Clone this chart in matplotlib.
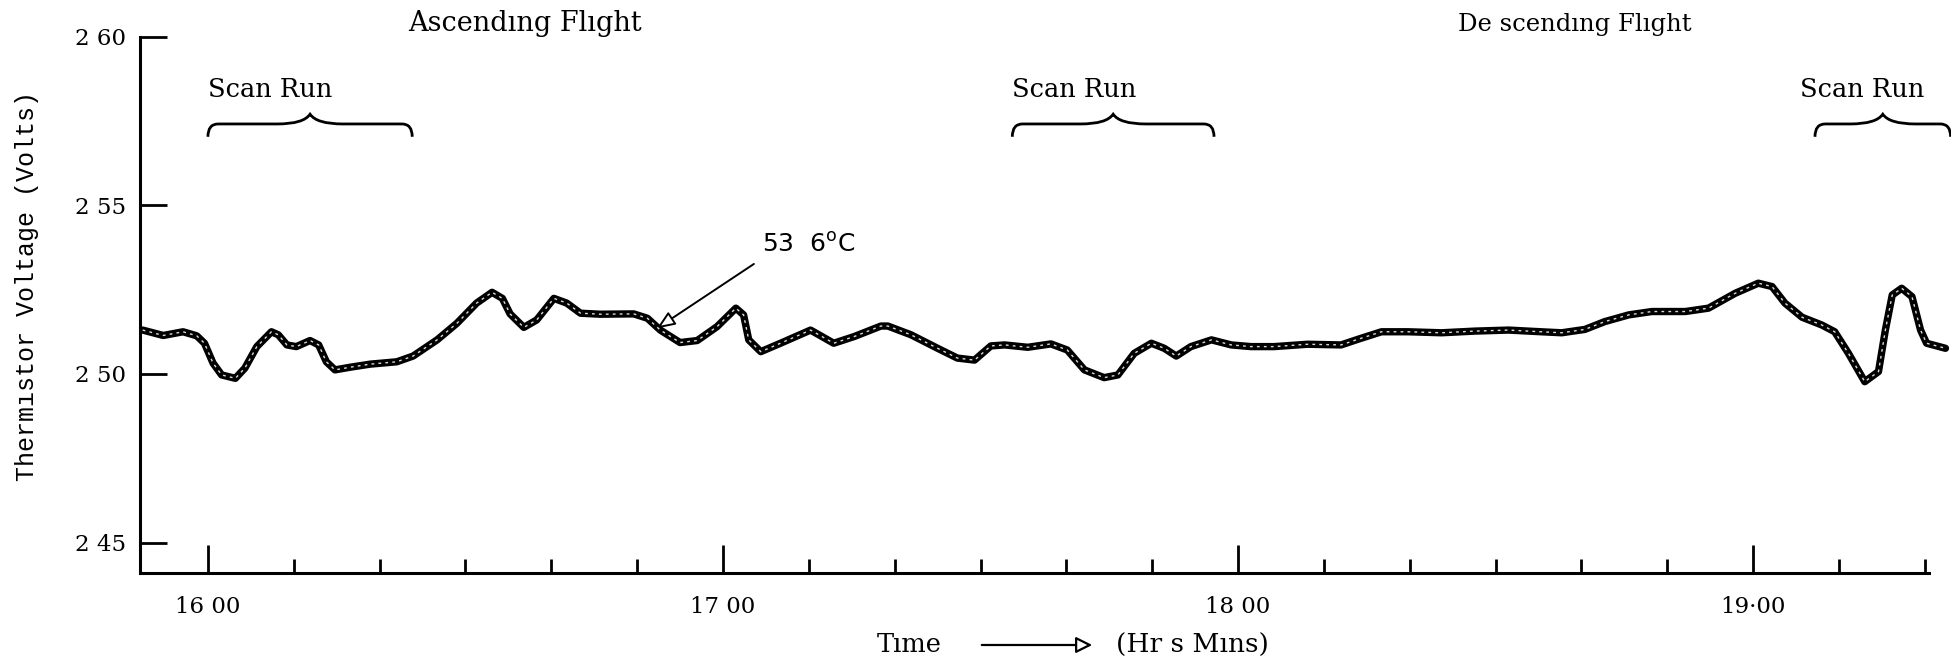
import matplotlib
matplotlib.use("Agg")
import matplotlib.pyplot as plt
from matplotlib.path import Path
from matplotlib.patches import PathPatch, FancyArrowPatch

# ---- data (time in minutes after 16:00, thermistor voltage in volts) ----
time_min = [-7.6, -5.2, -2.9, -1.3, -0.4, 0.6, 1.6, 3.2, 4.3, 5.7,
            7.4, 8.2, 9.2, 10.3, 11.9, 12.9, 13.8, 14.8, 16.6, 18.9,
            22.0, 23.9, 26.7, 29.0, 31.3, 33.1, 34.3, 35.2, 36.8, 38.3,
            40.3, 41.8, 43.4, 45.7, 49.6, 51.2, 52.7, 55.0, 57.0, 59.3,
            61.5, 62.4, 63.0, 64.4, 66.7, 70.2, 72.9, 75.3, 78.4, 79.2,
            81.9, 85.0, 87.3, 89.3, 91.2, 92.8, 95.5, 98.2, 100.1, 102.1,
            104.4, 106.0, 107.9, 109.9, 111.4, 112.8, 114.5, 116.9, 119.2, 121.5,
            124.2, 128.1, 132.0, 134.0, 136.7, 139.8, 143.7, 147.6, 151.5, 155.3,
            157.7, 160.4, 162.7, 165.5, 168.2, 172.1, 174.8, 177.9, 180.6, 182.2,
            183.7, 185.7, 188.0, 189.5, 191.1, 193.0, 194.6, 195.4, 196.2, 197.3,
            198.5, 199.5, 200.2, 202.4]
voltage = [2.5130, 2.5114, 2.5125, 2.5113, 2.5091, 2.5032, 2.4997, 2.4987, 2.5017, 2.5081,
           2.5125, 2.5116, 2.5086, 2.5081, 2.5099, 2.5086, 2.5036, 2.5012, 2.5020, 2.5029,
           2.5036, 2.5053, 2.5101, 2.5150, 2.5210, 2.5242, 2.5224, 2.5178, 2.5138, 2.5160,
           2.5224, 2.5210, 2.5180, 2.5177, 2.5178, 2.5165, 2.5130, 2.5093, 2.5099, 2.5140,
           2.5195, 2.5175, 2.5101, 2.5066, 2.5091, 2.5130, 2.5091, 2.5111, 2.5142, 2.5142,
           2.5116, 2.5076, 2.5047, 2.5041, 2.5083, 2.5086, 2.5079, 2.5089, 2.5071, 2.5012,
           2.4989, 2.4997, 2.5061, 2.5091, 2.5076, 2.5053, 2.5081, 2.5101, 2.5086, 2.5081,
           2.5081, 2.5088, 2.5086, 2.5103, 2.5125, 2.5125, 2.5122, 2.5127, 2.5130, 2.5125,
           2.5122, 2.5132, 2.5155, 2.5175, 2.5185, 2.5185, 2.5195, 2.5239, 2.5269, 2.5259,
           2.5210, 2.5168, 2.5145, 2.5125, 2.5061, 2.4977, 2.5007, 2.5130, 2.5234, 2.5254,
           2.5229, 2.5130, 2.5091, 2.5076]

ytick_vals = [2.45, 2.50, 2.55, 2.60]
ytick_labels = ["2 45", "2 50", "2 55", "2 60"]
hour_ticks = [0, 60, 120, 180]
hour_labels = ["16 00", "17 00", "18 00", "19\u00b700"]
minor_ticks = [10, 20, 30, 40, 50, 70, 80, 90, 100, 110, 130, 140, 150, 160, 170, 190, 200]

scan_runs = [(0.0, 23.8), (93.7, 117.2), (187.2, 203.0)]
scan_text_x = [0.0, 93.7, 185.4]
phase_labels = ["Ascend\u0131ng Fl\u0131ght", "De scend\u0131ng Fl\u0131ght"]
phase_x = [23.3, 145.6]
phase_size = [19.5, 17.5]
annot_text = "53  6$^{\\mathrm{o}}$C"

SERIF = "DejaVu Serif"

fig = plt.figure(figsize=(19.51, 6.57), dpi=100)
ax = fig.add_axes([0.0718, 0.1274, 0.9170, 0.8169])

ax.plot(time_min, voltage, color="black", lw=5.3, solid_capstyle="round",
        solid_joinstyle="round", clip_on=False, zorder=3)
ax.plot(time_min, voltage, color="white", lw=1.0, ls=(0, (2, 3)),
        clip_on=False, zorder=4, alpha=0.85)

ax.set_xlim(-7.9, 200.5)
ax.set_ylim(2.4409, 2.60)
for s in ["top", "right"]:
    ax.spines[s].set_visible(False)
ax.spines["left"].set_linewidth(2.2)
ax.spines["bottom"].set_linewidth(2.2)

ax.set_yticks(ytick_vals)
ax.set_yticklabels(ytick_labels, family=SERIF)
ax.tick_params(axis="y", direction="in", length=19.5, width=2, pad=10, labelsize=16.5)
ax.set_xticks(hour_ticks)
ax.set_xticklabels(hour_labels, family=SERIF)
ax.set_xticks(minor_ticks, minor=True)
ax.tick_params(axis="x", which="major", direction="in", length=20, width=2, pad=16, labelsize=16.5)
ax.tick_params(axis="x", which="minor", direction="in", length=10, width=2)


def brace(x0, x1, y_line, y_end, y_peak, r=1.2, m=3.8):
    xc = (x0 + x1) / 2.0
    verts = [(x0, y_end), (x0, y_line), (x0 + r, y_line),
             (xc - m, y_line),
             (xc - m * 0.2, y_line), (xc, y_peak),
             (xc + m * 0.2, y_line), (xc + m, y_line),
             (x1 - r, y_line),
             (x1, y_line), (x1, y_end)]
    codes = [Path.MOVETO, Path.CURVE3, Path.CURVE3,
             Path.LINETO,
             Path.CURVE3, Path.CURVE3,
             Path.CURVE3, Path.CURVE3,
             Path.LINETO,
             Path.CURVE3, Path.CURVE3]
    ax.add_patch(PathPatch(Path(verts, codes), fill=False, lw=2.0,
                           ec="black", clip_on=False))


for (x0, x1), tx in zip(scan_runs, scan_text_x):
    brace(x0, x1, 2.5741, 2.5703, 2.5770)
    ax.text(tx, 2.5821, "Scan Run", family=SERIF, fontsize=18.5,
            ha="left", va="baseline", clip_on=False)

for lab, px, fs in zip(phase_labels, phase_x, phase_size):
    ax.text(px, 2.6017, lab, family=SERIF, fontsize=fs,
            ha="left", va="baseline", clip_on=False)

ax.annotate("", xy=(52.3, 2.5135), xytext=(63.6, 2.5326),
            arrowprops=dict(arrowstyle="-|>,head_length=1.1,head_width=0.45",
                            fc="white", ec="black", lw=1.4, shrinkA=0, shrinkB=0))
ax.text(64.5, 2.5382, annot_text, family="DejaVu Sans", fontsize=18,
        ha="left", va="center")

fig.text(27 / 1951, 1 - 286 / 657, "Therm\u0131stor Voltage (Volts)", family="Liberation Mono",
         fontsize=18, rotation=90, ha="center", va="center")
fig.text(909 / 1951, 1 - 645 / 657, "T\u0131me", family=SERIF, fontsize=18.5,
         ha="center", va="center")
fig.text(1192 / 1951, 1 - 645 / 657, "(Hr s M\u0131ns)", family=SERIF, fontsize=19,
         ha="center", va="center")
fig.add_artist(FancyArrowPatch(
    (979 / 1951, 1 - 645 / 657), (1095 / 1951, 1 - 645 / 657),
    transform=fig.transFigure, arrowstyle="-|>,head_length=0.7,head_width=0.35",
    fc="white", ec="black", lw=1.6, mutation_scale=14))

fig.savefig("out.png", dpi=100, facecolor="white")
